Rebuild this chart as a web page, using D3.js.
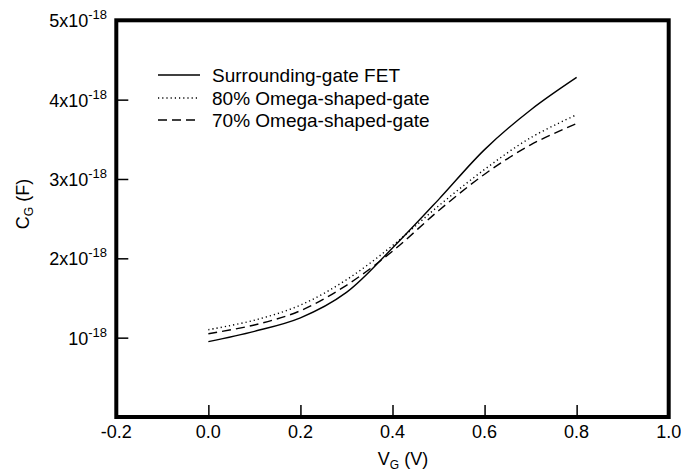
<!DOCTYPE html>
<html>
<head>
<meta charset="utf-8">
<script src="https://cdn.jsdelivr.net/npm/d3@7"></script>
<style>
html,body{margin:0;padding:0;background:#fff;}
svg{display:block;font-family:"Liberation Sans",Arial,sans-serif;}
</style>
</head>
<body>
<svg id="chart" width="681" height="472"></svg>
<script>
// ---- data ----
const vg = [0.0, 0.1, 0.2, 0.3, 0.4, 0.5, 0.6, 0.7, 0.8];
const surroundingGate = [0.95, 1.08, 1.25, 1.57, 2.13, 2.74, 3.37, 3.87, 4.28]; // x1e-18 F
const omega80 = [1.10, 1.22, 1.41, 1.73, 2.16, 2.66, 3.12, 3.52, 3.81];
const omega70 = [1.05, 1.16, 1.34, 1.66, 2.09, 2.60, 3.06, 3.43, 3.70];
const seriesNames = ["Surrounding-gate FET", "80% Omega-shaped-gate", "70% Omega-shaped-gate"];
const xTicks = [-0.2, 0.0, 0.2, 0.4, 0.6, 0.8, 1.0];
const yTicks = [1, 2, 3, 4, 5]; // units of 1e-18
const yExponent = "-18";

const svg = d3.select("#chart");
const L = 116.3, R = 668.7, T = 20.3, B = 417;
const x = d3.scaleLinear().domain([-0.2, 1.0]).range([L, R]);
const y = d3.scaleLinear().domain([0, 5]).range([B, T]);

const dashes = [null, "1.2,3", "9,5"];
const series = [surroundingGate, omega80, omega70];

// ticks (inward)
const gx = svg.append("g").attr("transform", `translate(0,${B})`)
  .call(d3.axisBottom(x).tickValues(xTicks.filter(v => v > -0.2 && v < 1.0)).tickSize(-12).tickFormat(""));
gx.select(".domain").remove();
gx.selectAll("line").attr("stroke", "#000").attr("stroke-width", 1.5);

const gy = svg.append("g").attr("transform", `translate(${L},0)`)
  .call(d3.axisLeft(y).tickValues(yTicks.filter(v => v < 5)).tickSize(-12).tickFormat(""));
gy.select(".domain").remove();
gy.selectAll("line").attr("stroke", "#000").attr("stroke-width", 1.5);

// x tick labels
svg.append("g").selectAll("text").data(xTicks).join("text")
  .attr("x", d => x(d)).attr("y", 438)
  .attr("text-anchor", "middle").attr("font-size", 18).attr("fill", "#000")
  .text(d => d3.format(".1f")(d).replace("\u2212", "-"));

// y tick labels
const yl = svg.append("g").selectAll("text").data(yTicks).join("text")
  .attr("x", 107).attr("y", d => y(d) + 7)
  .attr("text-anchor", "end").attr("font-size", 18).attr("fill", "#000");
yl.append("tspan").text(d => d === 1 ? "10" : d + "x10");
yl.append("tspan").attr("dy", -8).attr("font-size", 13).text(yExponent);

// axis titles
const xt = svg.append("text").attr("x", 403).attr("y", 465).attr("text-anchor", "middle")
  .attr("font-size", 18).attr("fill", "#000");
xt.append("tspan").text("V");
xt.append("tspan").attr("font-size", 12).attr("dy", 4).text("G");
xt.append("tspan").attr("dy", -4).text(" (V)");

const yt = svg.append("text").attr("transform", "translate(29,204) rotate(-90)")
  .attr("text-anchor", "middle").attr("font-size", 18).attr("fill", "#000");
yt.append("tspan").text("C");
yt.append("tspan").attr("font-size", 12).attr("dy", 4).text("G");
yt.append("tspan").attr("dy", -4).text(" (F)");

// curves
const line = d3.line().x((d, i) => x(vg[i])).y(d => y(d)).curve(d3.curveCatmullRom.alpha(0.5));
series.forEach((s, i) => {
  svg.append("path").datum(s).attr("d", line)
    .attr("fill", "none").attr("stroke", "#000").attr("stroke-width", 1.4)
    .attr("stroke-dasharray", dashes[i]);
});

// legend
const legendY = [75, 98, 120];
seriesNames.forEach((name, i) => {
  svg.append("line").attr("x1", 158).attr("x2", 200).attr("y1", legendY[i]).attr("y2", legendY[i])
    .attr("stroke", "#000").attr("stroke-width", 1.4).attr("stroke-dasharray", dashes[i]);
  svg.append("text").attr("x", 212).attr("y", legendY[i] + 7).attr("font-size", 19).attr("fill", "#000").text(name);
});

// frame
svg.append("rect").attr("x", L).attr("y", T).attr("width", R - L).attr("height", B - T)
  .attr("fill", "none").attr("stroke", "#000").attr("stroke-width", 4);
</script>
</body>
</html>
